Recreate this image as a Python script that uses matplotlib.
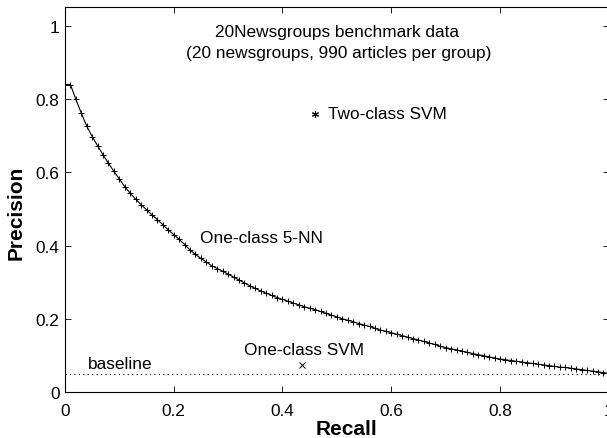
import matplotlib
matplotlib.use("Agg")
import matplotlib.pyplot as plt

plt.rcParams['font.family'] = ['Liberation Sans', 'DejaVu Sans']

recall = [i / 100 for i in range(101)]
precision = [
    0.840, 0.840, 0.800, 0.762, 0.727, 0.698, 0.673, 0.648, 0.625, 0.603,
    0.582, 0.561, 0.543, 0.527, 0.512, 0.498, 0.484, 0.471, 0.457, 0.443,
    0.430, 0.417, 0.403, 0.388, 0.376, 0.365, 0.355, 0.345, 0.337, 0.330,
    0.322, 0.314, 0.306, 0.298, 0.290, 0.283, 0.276, 0.270, 0.264, 0.258,
    0.253, 0.248, 0.243, 0.238, 0.233, 0.229, 0.225, 0.220, 0.215, 0.210,
    0.205, 0.200, 0.196, 0.192, 0.187, 0.183, 0.179, 0.174, 0.169, 0.166,
    0.162, 0.158, 0.154, 0.150, 0.146, 0.142, 0.138, 0.134, 0.130, 0.125,
    0.121, 0.118, 0.115, 0.112, 0.108, 0.105, 0.102, 0.099, 0.096, 0.093,
    0.090, 0.088, 0.086, 0.084, 0.082, 0.080, 0.078, 0.076, 0.074, 0.072,
    0.070, 0.068, 0.067, 0.065, 0.063, 0.061, 0.059, 0.057, 0.055, 0.053,
    0.051,
]
two_class_svm = (0.46, 0.76)
one_class_svm = (0.435, 0.075)
baseline = 0.05
ticks = [0, 0.2, 0.4, 0.6, 0.8, 1]
tick_labels = ["0", "0.2", "0.4", "0.6", "0.8", "1"]

fig = plt.figure(figsize=(6.07, 4.39), dpi=100)
ax = fig.add_axes([0.107, 0.1048, 0.896, 0.877])

ax.plot(recall, precision, '-', color='black', lw=0.8, marker='+',
        markersize=4.5, markeredgewidth=0.7)
ax.axhline(baseline, color='black', lw=0.8, linestyle=(0, (1, 3)))
ax.plot([two_class_svm[0]], [two_class_svm[1]], marker=(6, 2, 0), color='black',
        markersize=5, markeredgewidth=0.8, linestyle='none')
ax.plot([one_class_svm[0]], [one_class_svm[1]], marker='x', color='black',
        markersize=4, markeredgewidth=0.7, linestyle='none')

fs = 12.4
ax.text(0.50, 0.986, "20Newsgroups benchmark data", ha='center', va='center', fontsize=fs)
ax.text(0.503, 0.929, "(20 newsgroups, 990 articles per group)", ha='center', va='center', fontsize=fs)
ax.text(0.484, 0.76, "Two-class SVM", ha='left', va='center', fontsize=fs)
ax.text(0.248, 0.423, "One-class 5-NN", ha='left', va='center', fontsize=fs)
ax.text(0.33, 0.116, "One-class SVM", ha='left', va='center', fontsize=fs)
ax.text(0.042, 0.079, "baseline", ha='left', va='center', fontsize=fs)

ax.set_xlim(0, 1)
ax.set_ylim(0, 1.052)
ax.set_xticks(ticks)
ax.set_xticklabels(tick_labels, fontsize=fs)
ax.set_yticks(ticks)
ax.set_yticklabels(tick_labels, fontsize=fs)
ax.tick_params(direction='in', top=True, right=True, length=4, width=0.6)
ax.tick_params(axis='x', pad=8)
ax.tick_params(axis='y', pad=4)
for s in ax.spines.values():
    s.set_linewidth(0.8)
ax.set_xlabel("Recall", fontsize=15, fontweight='bold', va='center')
ax.xaxis.set_label_coords(0.518, -0.094)
ax.set_ylabel("Precision", fontsize=15, fontweight='bold', va='center')
ax.yaxis.set_label_coords(-0.090, 0.469)

fig.savefig("out.png", dpi=100)
